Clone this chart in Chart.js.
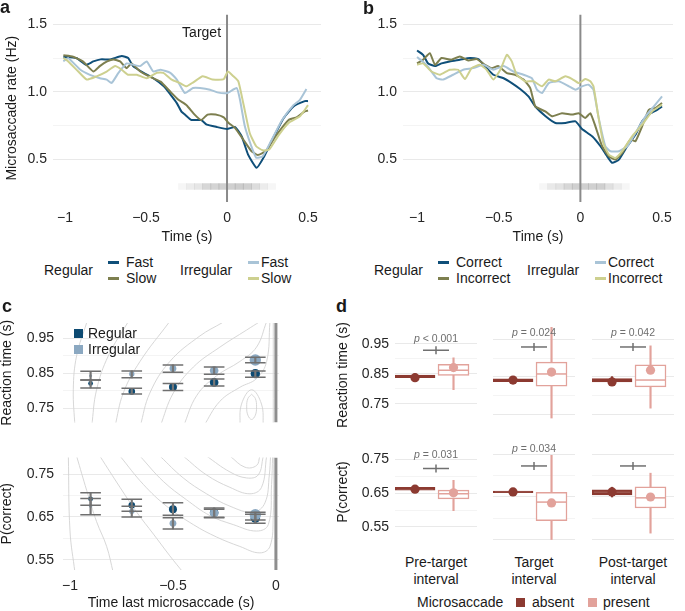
<!DOCTYPE html>
<html>
<head>
<meta charset="utf-8">
<title>Microsaccade rate and performance</title>
<script src="https://cdn.jsdelivr.net/npm/chart.js@4.4.1/dist/chart.umd.min.js"></script>
<style>
  body { margin: 0; background: #fff; }
  #fig { position: relative; width: 685px; height: 611px; overflow: hidden;
         font-family: "Liberation Sans", Arial, sans-serif; color: #1a1a1a; }
  #fig canvas { position: absolute; }
  .t { position: absolute; font-size: 14px; line-height: 16px; white-space: nowrap; }
  .ctr { position: absolute; font-size: 14px; line-height: 17px; width: 120px; text-align: center; }
  .tag { position: absolute; font-size: 18px; line-height: 18px; font-weight: bold; }
  .dash { position: absolute; width: 11px; height: 3px; }
  .sq { position: absolute; width: 9px; height: 9px; }
</style>
</head>
<body>
<div id="fig"></div>
<script>
// ---- panel a: microsaccade rate (Hz) over time (s), fast vs slow responses ----
var aRegularFast = [[-1.01,1.26],[-0.93,1.25],[-0.87,1.20],[-0.825,1.225],[-0.78,1.24],[-0.72,1.24],[-0.65,1.265],[-0.61,1.25],[-0.58,1.19],[-0.515,1.14],[-0.455,1.10],[-0.39,1.04],[-0.35,0.98],[-0.31,0.915],[-0.28,0.85],[-0.26,0.83],[-0.22,0.79],[-0.16,0.79],[-0.125,0.755],[-0.06,0.737],[0,0.723],[0.05,0.737],[0.09,0.67],[0.13,0.533],[0.183,0.435],[0.23,0.52],[0.28,0.645],[0.35,0.805],[0.41,0.89],[0.48,0.93],[0.5,0.93]];
var aRegularSlow = [[-1.01,1.27],[-0.95,1.26],[-0.89,1.225],[-0.825,1.15],[-0.785,1.19],[-0.74,1.225],[-0.70,1.24],[-0.66,1.225],[-0.62,1.175],[-0.59,1.21],[-0.535,1.15],[-0.475,1.11],[-0.41,1.075],[-0.35,1.0],[-0.30,0.94],[-0.25,0.9],[-0.2,0.83],[-0.16,0.79],[-0.12,0.83],[-0.07,0.83],[-0.02,0.81],[0.01,0.768],[0.05,0.73],[0.1,0.645],[0.15,0.56],[0.19,0.53],[0.24,0.56],[0.3,0.67],[0.38,0.79],[0.43,0.81],[0.48,0.854],[0.5,0.86]];
var aIrregularFast = [[-1.01,1.225],[-0.98,1.25],[-0.907,1.165],[-0.846,1.125],[-0.784,1.10],[-0.743,1.09],[-0.712,1.065],[-0.67,1.14],[-0.62,1.21],[-0.578,1.2],[-0.537,1.19],[-0.496,1.225],[-0.455,1.15],[-0.41,1.163],[-0.35,1.14],[-0.31,1.09],[-0.26,0.99],[-0.21,1.027],[-0.167,1.027],[-0.105,1.015],[-0.06,0.995],[0,0.99],[0.06,1.027],[0.08,0.94],[0.11,0.743],[0.15,0.595],[0.18,0.51],[0.22,0.52],[0.27,0.63],[0.34,0.79],[0.41,0.9],[0.45,0.94],[0.49,1.02]];
var aIrregularSlow = [[-1.01,1.25],[-0.98,1.225],[-0.918,1.15],[-0.866,1.09],[-0.805,1.114],[-0.743,1.15],[-0.69,1.19],[-0.65,1.163],[-0.61,1.126],[-0.557,1.126],[-0.496,1.1],[-0.434,1.14],[-0.393,1.14],[-0.342,1.09],[-0.29,1.064],[-0.25,1.04],[-0.208,1.07],[-0.15,1.114],[-0.09,1.09],[-0.02,1.094],[0.005,1.15],[0.04,1.114],[0.07,1.077],[0.1,0.916],[0.14,0.694],[0.18,0.595],[0.22,0.565],[0.26,0.57],[0.32,0.68],[0.38,0.768],[0.45,0.817],[0.5,0.9]];
// target onset distribution (bin centres, s) and its shading
var aTargetTimes = [-0.275,-0.225,-0.175,-0.125,-0.075,-0.025,0.025,0.075,0.125,0.175,0.225,0.275];
var aTargetShade = [0.06,0.12,0.16,0.26,0.28,0.3,0.3,0.32,0.3,0.22,0.12,0.06];

// ---- panel b: correct vs incorrect responses ----
var bRegularCorrect = [[-1.0,1.306],[-0.963,1.274],[-0.932,1.21],[-0.89,1.19],[-0.85,1.21],[-0.8,1.225],[-0.738,1.237],[-0.676,1.25],[-0.625,1.242],[-0.584,1.19],[-0.533,1.126],[-0.47,1.1],[-0.42,1.064],[-0.369,1.02],[-0.318,0.965],[-0.276,0.89],[-0.215,0.82],[-0.153,0.768],[-0.092,0.768],[-0.03,0.78],[0.01,0.723],[0.072,0.669],[0.123,0.595],[0.164,0.52],[0.195,0.472],[0.236,0.496],[0.287,0.595],[0.337,0.68],[0.378,0.78],[0.43,0.84],[0.47,0.865],[0.5,0.89]];
var bRegularIncorrect = [[-1.0,1.21],[-0.963,1.237],[-0.922,1.286],[-0.89,1.2],[-0.85,1.25],[-0.79,1.237],[-0.738,1.262],[-0.686,1.232],[-0.635,1.242],[-0.584,1.2],[-0.543,1.175],[-0.502,1.19],[-0.45,1.138],[-0.4,1.126],[-0.348,1.09],[-0.307,1.027],[-0.276,0.891],[-0.215,0.854],[-0.174,0.817],[-0.113,0.84],[-0.05,0.83],[-0.01,0.84],[0.03,0.805],[0.061,0.84],[0.092,0.743],[0.133,0.595],[0.174,0.52],[0.215,0.496],[0.256,0.545],[0.307,0.645],[0.337,0.632],[0.378,0.743],[0.419,0.866],[0.46,0.879],[0.5,0.916]];
var bIrregularCorrect = [[-1.0,1.257],[-0.943,1.2],[-0.88,1.1],[-0.84,1.09],[-0.779,1.126],[-0.717,1.163],[-0.656,1.175],[-0.594,1.2],[-0.533,1.163],[-0.47,1.19],[-0.41,1.15],[-0.348,1.126],[-0.297,1.1],[-0.266,1.015],[-0.235,0.99],[-0.194,1.064],[-0.133,1.077],[-0.07,1.04],[-0.03,1.015],[0.01,1.04],[0.05,1.052],[0.08,1.015],[0.11,0.817],[0.153,0.595],[0.184,0.558],[0.236,0.558],[0.287,0.595],[0.337,0.694],[0.399,0.817],[0.45,0.891],[0.5,0.965]];
var bIrregularIncorrect = [[-1.0,1.2],[-0.963,1.21],[-0.912,1.15],[-0.86,1.126],[-0.8,1.163],[-0.748,1.163],[-0.707,1.094],[-0.666,1.175],[-0.615,1.2],[-0.574,1.163],[-0.533,1.09],[-0.49,1.163],[-0.45,1.274],[-0.42,1.225],[-0.39,1.126],[-0.338,1.077],[-0.287,1.077],[-0.235,1.04],[-0.194,1.09],[-0.153,1.077],[-0.092,1.114],[-0.05,1.094],[-0.01,1.064],[0.03,1.094],[0.061,1.077],[0.08,1.04],[0.11,0.817],[0.14,0.62],[0.174,0.533],[0.215,0.508],[0.256,0.558],[0.317,0.669],[0.378,0.755],[0.44,0.854],[0.5,0.904]];
var bTargetTimes = [-0.225,-0.175,-0.125,-0.075,-0.025,0.025,0.075,0.125,0.175,0.225,0.275];
var bTargetShade = [0.06,0.14,0.18,0.26,0.3,0.3,0.3,0.3,0.2,0.12,0.06];

var rateTicks = [0.5, 0.75, 1.0, 1.25, 1.5];
var rateMajor = [0.5, 1.0, 1.5];
var timeTicks = [-1, -0.5, 0, 0.5];

// ---- panel c: binned by time of last microsaccade (s) ----
var cTimes = [-0.9, -0.7, -0.5, -0.3, -0.1];
var cRtRegular = [0.821, 0.798, 0.811, 0.824, 0.849];
var cRtRegularLo = [0.808, 0.791, 0.801, 0.814, 0.839];
var cRtRegularHi = [0.831, 0.807, 0.821, 0.834, 0.857];
var cRtIrregular = [0.843, 0.848, 0.864, 0.858, 0.888];
var cRtIrregularLo = [0.831, 0.837, 0.853, 0.847, 0.880];
var cRtIrregularHi = [0.856, 0.857, 0.874, 0.868, 0.896];
var cPcRegular = [0.692, 0.677, 0.668, 0.660, 0.647];
var cPcRegularLo = [0.677, 0.663, 0.654, 0.649, 0.635];
var cPcRegularHi = [0.7065, 0.691, 0.683, 0.671, 0.656];
var cPcIrregular = [0.675, 0.663, 0.635, 0.659, 0.655];
var cPcIrregularLo = [0.655, 0.650, 0.622, 0.648, 0.643];
var cPcIrregularHi = [0.693, 0.675, 0.648, 0.668, 0.661];
var cRegularRadius = [2.4, 3.3, 4.0, 4.3, 4.7];
var cIrregularRadius = [1.5, 2.7, 3.4, 4.3, 5.7];
// density contours (time, value) behind the points
var cRtContours = [
  [[-0.976,0.697],[-0.984,0.803],[-0.968,0.90],[-0.919,0.995]],
  [[-0.895,0.697],[-0.871,0.803],[-0.814,0.90],[-0.72,0.995]],
  [[-0.782,0.697],[-0.741,0.794],[-0.66,0.884],[-0.52,0.995]],
  [[-0.66,0.697],[-0.612,0.794],[-0.515,0.884],[-0.369,0.957],[-0.26,0.995]],
  [[-0.563,0.697],[-0.498,0.794],[-0.401,0.868],[-0.272,0.925],[-0.142,0.974],[-0.078,0.998]],
  [[-0.45,0.697],[-0.385,0.786],[-0.288,0.843],[-0.175,0.884],[-0.094,0.925],[-0.045,0.998]],
  [[-0.353,0.697],[-0.272,0.77],[-0.175,0.81],[-0.094,0.835],[-0.045,0.884],[-0.029,0.998]],
  [[-0.175,0.697],[-0.167,0.762],[-0.118,0.803],[-0.07,0.762],[-0.061,0.697]],
  [[-0.118,0.79],[-0.1,0.778],[-0.094,0.754],[-0.1,0.73],[-0.118,0.718],[-0.136,0.73],[-0.142,0.754],[-0.136,0.778],[-0.118,0.79]],
  [[-0.013,0.697],[-0.013,0.998]]
];
var cPcContours = [
  [[-1.008,0.792],[-1.0,0.617],[-0.976,0.52]],
  [[-0.968,0.792],[-0.919,0.712],[-0.871,0.639],[-0.822,0.581],[-0.79,0.52]],
  [[-0.855,0.792],[-0.757,0.719],[-0.676,0.661],[-0.595,0.61],[-0.515,0.559],[-0.45,0.52]],
  [[-0.757,0.792],[-0.644,0.726],[-0.531,0.675],[-0.401,0.632],[-0.288,0.603],[-0.175,0.581],[-0.078,0.566],[-0.029,0.581],[-0.013,0.653],[-0.01,0.792]],
  [[-0.66,0.792],[-0.547,0.733],[-0.434,0.69],[-0.32,0.653],[-0.207,0.632],[-0.094,0.617],[-0.037,0.632],[-0.021,0.726],[-0.016,0.792]],
  [[-0.563,0.792],[-0.45,0.741],[-0.337,0.704],[-0.223,0.675],[-0.11,0.661],[-0.053,0.683],[-0.032,0.748],[-0.026,0.792]],
  [[-0.45,0.792],[-0.337,0.748],[-0.223,0.719],[-0.126,0.704],[-0.07,0.719],[-0.045,0.792]],
  [[-0.337,0.792],[-0.223,0.755],[-0.142,0.741],[-0.086,0.748],[-0.061,0.792]],
  [[-0.223,0.792],[-0.15,0.766],[-0.094,0.77],[-0.078,0.792]]
];

// ---- panel d: microsaccade absent / present per interval ----
var dIntervals = [['Pre-target', 'interval'], ['Target', 'interval'], ['Post-target', 'interval']];
// five-number summaries [lower whisker, q1, median, q3, upper whisker]
var dRtAbsentStats = [[0.832,0.8368,0.840,0.8456,0.850],[0.838,0.838,0.841,0.845,0.846],[0.833,0.8368,0.840,0.8456,0.851]];
var dRtPresentStats = [[0.797,0.845,0.862,0.882,0.903],[0.742,0.826,0.858,0.889,0.985],[0.768,0.824,0.842,0.882,0.932]];
var dRtAbsentMean = [0.837, 0.842, 0.837];
var dRtPresentMean = [0.871, 0.863, 0.868];
var dRtBarLevel = [0.929, 0.929, 0.929];
var dRtP = ['< 0.001', '= 0.024', '= 0.042'];
var dPcAbsentStats = [[0.655,0.659,0.663,0.667,0.668],[0.659,0.660,0.662,0.664,0.665],[0.650,0.655,0.662,0.667,0.673]];
var dPcPresentStats = [[0.598,0.633,0.648,0.659,0.688],[0.55,0.594,0.638,0.661,0.748],[0.565,0.624,0.648,0.674,0.706]];
var dPcAbsentMean = [0.662, 0.662, 0.662];
var dPcPresentMean = [0.651, 0.636, 0.650];
var dPcBarLevel = [0.723, 0.723, 0.723];
var dPcP = ['= 0.031', '= 0.034', null];

// ---- colours ----
var BLUE = '#0f4f79', OLIVE = '#7d7f4f', LIGHTBLUE = '#a9c4d7', PALE = '#cdd08f';
var C_REG = '#0d4a72', C_IRR = '#8ba8c1';
var ABSENT = '#8c3a31', PRESENT = '#e2a29b';
var FONT = '"Liberation Sans", Arial, sans-serif';
var INK = '#1a1a1a', TICK = '#262626';

Chart.defaults.font.family = FONT;
Chart.defaults.font.size = 14;
Chart.defaults.color = TICK;

var fig = document.getElementById('fig');

function addCanvas(left, top, w, h) {
  var c = document.createElement('canvas');
  c.width = w; c.height = h;
  c.style.left = left + 'px'; c.style.top = top + 'px';
  c.style.width = w + 'px'; c.style.height = h + 'px';
  fig.appendChild(c);
  return c;
}

function addText(str, x, cy, cls) {
  var d = document.createElement('div');
  d.className = cls || 't';
  d.textContent = str;
  d.style.left = x + 'px';
  d.style.top = (cy - 8) + 'px';
  fig.appendChild(d);
  return d;
}

function addSwatch(cls, x, y, color) {
  var d = document.createElement('div');
  d.className = cls;
  d.style.left = x + 'px'; d.style.top = y + 'px';
  d.style.background = color;
  fig.appendChild(d);
}

function toXY(pairs) {
  return pairs.map(function (p) { return { x: p[0], y: p[1] }; });
}

function setTicks(values) {
  return function (scale) { scale.ticks = values.map(function (v) { return { value: v }; }); };
}

function fixHeight(h) {
  return function (s) { if (s.options.display) s.height = h; };
}

function gridColor(major) {
  return function (c) { return major.indexOf(c.tick.value) >= 0 ? '#e9e9e9' : '#f4f4f4'; };
}

function signed(v) {
  if (v === 0) return '0';
  return (v < 0 ? '\u2212' : '') + Math.abs(v);
}

// draws text at data coordinates; parts may be italic
function notes(items) {
  return {
    id: 'notes',
    afterDatasetsDraw: function (chart) {
      var ctx = chart.ctx;
      items.forEach(function (it) {
        var x = chart.scales.x.getPixelForValue(it.x) + (it.dx || 0);
        var y = chart.scales.y.getPixelForValue(it.y);
        ctx.save();
        ctx.fillStyle = it.color;
        ctx.textBaseline = 'middle';
        var widths = it.parts.map(function (p) {
          ctx.font = (p.italic ? 'italic ' : '') + it.size + 'px ' + FONT;
          return ctx.measureText(p.text).width;
        });
        var total = widths.reduce(function (a, b) { return a + b; }, 0);
        var cx = it.align === 'right' ? x - total : x - total / 2;
        it.parts.forEach(function (p, i) {
          ctx.font = (p.italic ? 'italic ' : '') + it.size + 'px ' + FONT;
          ctx.fillText(p.text, cx, y);
          cx += widths[i];
        });
        ctx.restore();
      });
    }
  };
}

var baseOptions = {
  responsive: false,
  animation: false,
  devicePixelRatio: 1,
  events: []
};

function layoutPad(top, right) {
  return { autoPadding: false, padding: { top: top, right: right, left: 0, bottom: 0 } };
}

// ---- panels a and b ----
var RATE_MIN = 0.181, RATE_MAX = 1.574;

function rateChart(cfg) {
  var canvas = addCanvas(cfg.left, 0, cfg.width, 250);
  var datasets = cfg.series.map(function (s, i) {
    return {
      type: 'line', data: toXY(s.data), borderColor: s.color, borderWidth: 2,
      pointRadius: 0, tension: 0.15, order: 4 - i
    };
  });
  datasets.push({
    type: 'line', data: [{ x: 0, y: RATE_MIN }, { x: 0, y: RATE_MAX }],
    borderColor: '#8a8a8a', borderWidth: 2, pointRadius: 0, order: 10
  });
  datasets.push({
    type: 'bar',
    data: cfg.bins.map(function (t) { return { x: t, y: [0.274, 0.318] }; }),
    backgroundColor: cfg.shade.map(function (a) { return 'rgba(100,100,100,' + a + ')'; }),
    barPercentage: 1, categoryPercentage: 1, grouped: false, order: 11
  });

  new Chart(canvas, {
    type: 'scatter',
    data: { datasets: datasets },
    options: Object.assign({}, baseOptions, {
      layout: layoutPad(14, cfg.padRight),
      plugins: { legend: { display: false }, tooltip: { enabled: false } },
      scales: {
        x: {
          type: 'linear', min: cfg.xMin, max: cfg.xMax, offset: false,
          afterBuildTicks: setTicks(timeTicks),
          afterFit: fixHeight(48),
          grid: { display: false }, border: { display: false },
          ticks: { padding: 0, autoSkip: false, maxRotation: 0, callback: signed },
          title: { display: true, text: 'Time (s)', color: INK, font: { size: 14, lineHeight: 1 }, padding: { top: 0, bottom: 6 } }
        },
        y: {
          type: 'linear', min: RATE_MIN, max: RATE_MAX,
          afterBuildTicks: setTicks(rateTicks),
          afterFit: function (s) { s.width = cfg.yWidth; },
          grid: { color: gridColor(rateMajor), drawTicks: false }, border: { display: false },
          ticks: { padding: 6, callback: function (v) { return rateMajor.indexOf(v) >= 0 ? v.toFixed(1) : ''; } },
          title: { display: cfg.yTitle, text: 'Microsaccade rate (Hz)', color: INK, font: { size: 14, lineHeight: 1 }, padding: { top: 5, bottom: 0 } }
        }
      }
    }),
    plugins: [notes(cfg.notes)]
  });
}

rateChart({
  left: 0, width: 330, yWidth: 53, padRight: 9, xMin: -1.074, xMax: 0.58, yTitle: true,
  series: [
    { data: aRegularFast, color: BLUE }, { data: aRegularSlow, color: OLIVE },
    { data: aIrregularFast, color: LIGHTBLUE }, { data: aIrregularSlow, color: PALE }
  ],
  bins: aTargetTimes, shade: aTargetShade,
  notes: [{ x: 0, y: 1.437, dx: -6, align: 'right', size: 14, color: INK, parts: [{ text: 'Target' }] }]
});

rateChart({
  left: 340, width: 345, yWidth: 63, padRight: 12, xMin: -1.086, xMax: 0.567, yTitle: false,
  series: [
    { data: bRegularCorrect, color: BLUE }, { data: bRegularIncorrect, color: OLIVE },
    { data: bIrregularCorrect, color: LIGHTBLUE }, { data: bIrregularIncorrect, color: PALE }
  ],
  bins: bTargetTimes, shade: bTargetShade,
  notes: []
});

// legends under a and b
function rateLegend(x0, labels) {
  addText('Regular', x0, 270);
  addSwatch('dash', x0 + 64, 261, BLUE);
  addSwatch('dash', x0 + 64, 277, OLIVE);
  addText(labels[0], x0 + 82, 262);
  addText(labels[1], x0 + 82, 278);
  var x1 = x0 + labels[2];
  addText('Irregular', x1, 270);
  addSwatch('dash', x1 + 68, 261, LIGHTBLUE);
  addSwatch('dash', x1 + 68, 277, PALE);
  addText(labels[0], x1 + 81, 262);
  addText(labels[1], x1 + 81, 278);
}
rateLegend(44, ['Fast', 'Slow', 136]);
rateLegend(374, ['Correct', 'Incorrect', 153]);

// ---- panel c ----
var C_XMIN = -1.034, C_XMAX = 0.015;

function errorChart(cfg) {
  var canvas = addCanvas(0, cfg.top, 290, cfg.height);
  var datasets = [];
  cfg.contours.forEach(function (line) {
    datasets.push({ type: 'line', data: toXY(line), borderColor: '#d2d2d2', borderWidth: 0.9, pointRadius: 0, tension: 0.4, order: 30 });
  });
  datasets.push({
    type: 'line', data: [{ x: 0, y: cfg.min }, { x: 0, y: cfg.max }],
    borderColor: '#8e8e8e', borderWidth: 3, pointRadius: 0, order: 20
  });
  var groups = [
    { mean: cfg.reg, lo: cfg.regLo, hi: cfg.regHi, color: C_REG, radius: cRegularRadius, order: 11 },
    { mean: cfg.irr, lo: cfg.irrLo, hi: cfg.irrHi, color: C_IRR, radius: cIrregularRadius, order: 10 }
  ];
  groups.forEach(function (g) {
    datasets.push({
      type: 'scatter', data: cTimes.map(function (t, i) { return { x: t, y: g.mean[i] }; }),
      pointRadius: g.radius, pointBackgroundColor: g.color, pointBorderWidth: 0, order: g.order
    });
  });
  groups.forEach(function (g) {
    datasets.push({
      type: 'bar', data: cTimes.map(function (t, i) { return { x: t, y: [g.lo[i], g.hi[i]] }; }),
      backgroundColor: '#777777', barThickness: 1.5, grouped: false, order: 5
    });
    var caps = [];
    cTimes.forEach(function (t, i) { caps.push({ x: t, y: g.lo[i] }); caps.push({ x: t, y: g.hi[i] }); });
    datasets.push({
      type: 'scatter', data: caps, pointStyle: 'line', pointRadius: 10.3,
      pointBorderColor: '#6f6f6f', pointBorderWidth: 1.5, order: 4
    });
  });

  new Chart(canvas, {
    type: 'scatter',
    data: { datasets: datasets },
    options: Object.assign({}, baseOptions, {
      layout: layoutPad(cfg.padTop, 11),
      plugins: { legend: { display: false }, tooltip: { enabled: false } },
      scales: {
        x: {
          type: 'linear', min: C_XMIN, max: C_XMAX, offset: false, display: cfg.showX,
          afterBuildTicks: setTicks([-1, -0.5, 0]),
          afterFit: fixHeight(41),
          grid: { display: false }, border: { display: false },
          ticks: { padding: 0, autoSkip: false, maxRotation: 0, callback: signed },
          title: { display: true, text: 'Time last microsaccade (s)', color: INK, font: { size: 14, lineHeight: 1 }, padding: { top: 0, bottom: 1 } }
        },
        y: {
          type: 'linear', min: cfg.min, max: cfg.max,
          afterBuildTicks: setTicks(cfg.ticks),
          afterFit: function (s) { s.width = 63; },
          grid: { color: gridColor(cfg.major), drawTicks: false }, border: { display: false },
          ticks: { padding: 9, callback: function (v) { return cfg.major.indexOf(v) >= 0 ? v.toFixed(2) : ''; } },
          title: { display: true, text: cfg.title, color: INK, font: { size: 14, lineHeight: 1 }, padding: { top: 0, bottom: 0 } }
        }
      }
    })
  });
}

errorChart({
  top: 300, height: 140, padTop: 23, showX: false, min: 0.709, max: 0.994,
  ticks: [0.75, 0.8, 0.85, 0.9, 0.95], major: [0.75, 0.85, 0.95], title: 'Reaction time (s)',
  contours: cRtContours,
  reg: cRtRegular, regLo: cRtRegularLo, regHi: cRtRegularHi,
  irr: cRtIrregular, irrLo: cRtIrregularLo, irrHi: cRtIrregularHi
});
errorChart({
  top: 440, height: 171, padTop: 9, showX: true, min: 0.526, max: 0.789,
  ticks: [0.55, 0.6, 0.65, 0.7, 0.75], major: [0.55, 0.65, 0.75], title: 'P(correct)',
  contours: cPcContours,
  reg: cPcRegular, regLo: cPcRegularLo, regHi: cPcRegularHi,
  irr: cPcIrregular, irrLo: cPcIrregularLo, irrHi: cPcIrregularHi
});

addSwatch('sq', 74, 329, C_REG);
addSwatch('sq', 74, 345, C_IRR);
addText('Regular', 88, 333);
addText('Irregular', 88, 349);

// ---- panel d ----
var D_XMIN = 0.48, D_XMAX = 2.61;
var ABSENT_X = 1, PRESENT_X = 2, BAR_X = 1.545;
var facetLeft = [395, 493, 592];
var dRows = [
  { top: 320, height: 110, min: 0.7105, max: 0.9816, ticks: [0.75, 0.8, 0.85, 0.9, 0.95], major: [0.75, 0.85, 0.95],
    title: 'Reaction time (s)', absent: dRtAbsentStats, present: dRtPresentStats,
    absentMean: dRtAbsentMean, presentMean: dRtPresentMean, bar: dRtBarLevel, p: dRtP, pY: 0.966 },
  { top: 436, height: 112, min: 0.53, max: 0.777, ticks: [0.55, 0.6, 0.65, 0.7, 0.75], major: [0.55, 0.65, 0.75],
    title: 'P(correct)', absent: dPcAbsentStats, present: dPcPresentStats,
    absentMean: dPcAbsentMean, presentMean: dPcPresentMean, bar: dPcBarLevel, p: dPcP, pY: 0.763 }
];

function boxSets(x, s, color, fill, width) {
  return [
    { type: 'bar', data: [{ x: x, y: [s[0], s[4]] }], backgroundColor: color, barThickness: 1.5, grouped: false, clip: 0, order: 6 },
    { type: 'bar', data: [{ x: x, y: [s[1], s[3]] }], backgroundColor: fill, borderColor: color, borderWidth: 1.5,
      borderSkipped: false, barThickness: width, grouped: false, clip: 0, order: 5 },
    { type: 'scatter', data: [{ x: x, y: s[2] }], pointStyle: 'line', pointRadius: width / 2 - 0.75,
      pointBorderColor: color, pointBorderWidth: 1.5, order: 4 }
  ];
}

function facetChart(r, f) {
  var row = dRows[r];
  var first = f === 0;
  var yw = first ? 60 : 0;
  var canvas = addCanvas(facetLeft[f] - yw, row.top, 82 + yw, row.height);
  var datasets = []
    .concat(boxSets(ABSENT_X, row.absent[f], ABSENT, 'rgba(140,58,49,0.45)', 40))
    .concat(boxSets(PRESENT_X, row.present[f], PRESENT, '#ffffff', 31));
  datasets.push({ type: 'scatter', data: [{ x: ABSENT_X, y: row.absentMean[f] }], pointRadius: 4.6, pointBackgroundColor: ABSENT, pointBorderWidth: 0, order: 1 });
  datasets.push({ type: 'scatter', data: [{ x: PRESENT_X, y: row.presentMean[f] }], pointRadius: 4.6, pointBackgroundColor: PRESENT, pointBorderWidth: 0, order: 1 });
  datasets.push({ type: 'scatter', data: [{ x: BAR_X, y: row.bar[f] }], pointStyle: 'line', pointRadius: 13, pointBorderColor: '#707070', pointBorderWidth: 1.5, order: 2 });
  datasets.push({ type: 'scatter', data: [{ x: BAR_X, y: row.bar[f] }], pointStyle: 'line', pointRotation: 90, pointRadius: 4, pointBorderColor: '#707070', pointBorderWidth: 1.5, order: 2 });

  var items = [];
  if (row.p[f]) {
    items.push({ x: BAR_X, y: row.pY, size: 10.5, color: '#6e6e6e', parts: [{ text: 'p', italic: true }, { text: ' ' + row.p[f] }] });
  }

  new Chart(canvas, {
    type: 'scatter',
    data: { datasets: datasets },
    options: Object.assign({}, baseOptions, {
      layout: layoutPad(7, 0),
      plugins: { legend: { display: false }, tooltip: { enabled: false } },
      scales: {
        x: { type: 'linear', min: D_XMIN, max: D_XMAX, offset: false, display: false },
        y: {
          type: 'linear', min: row.min, max: row.max,
          afterBuildTicks: setTicks(row.ticks),
          afterFit: function (s) { s.width = yw; },
          grid: { color: gridColor(row.major), drawTicks: false }, border: { display: false },
          ticks: { display: first, padding: 6, callback: function (v) { return row.major.indexOf(v) >= 0 ? v.toFixed(2) : ''; } },
          title: { display: first, text: row.title, color: INK, font: { size: 14, lineHeight: 1 }, padding: { top: 1, bottom: 0 } }
        }
      }
    }),
    plugins: [notes(items)]
  });
}

for (var r = 0; r < 2; r++) {
  for (var f = 0; f < 3; f++) facetChart(r, f);
}

// facet labels under d
dIntervals.forEach(function (lines, f) {
  var d = document.createElement('div');
  d.className = 'ctr';
  d.innerHTML = lines.join('<br>');
  d.style.left = (facetLeft[f] + 41 - 60) + 'px';
  d.style.top = '554px';
  fig.appendChild(d);
});

addText('Microsaccade', 417, 602);
addSwatch('sq', 516, 598, ABSENT);
addText('absent', 532, 602);
addSwatch('sq', 588, 598, PRESENT);
addText('present', 603, 602);

// panel tags
[['a', 0, -2], ['b', 363, -1], ['c', 2, 297], ['d', 336, 297]].forEach(function (t) {
  var d = document.createElement('div');
  d.className = 'tag';
  d.textContent = t[0];
  d.style.left = t[1] + 'px';
  d.style.top = t[2] + 'px';
  fig.appendChild(d);
});
</script>
</body>
</html>
